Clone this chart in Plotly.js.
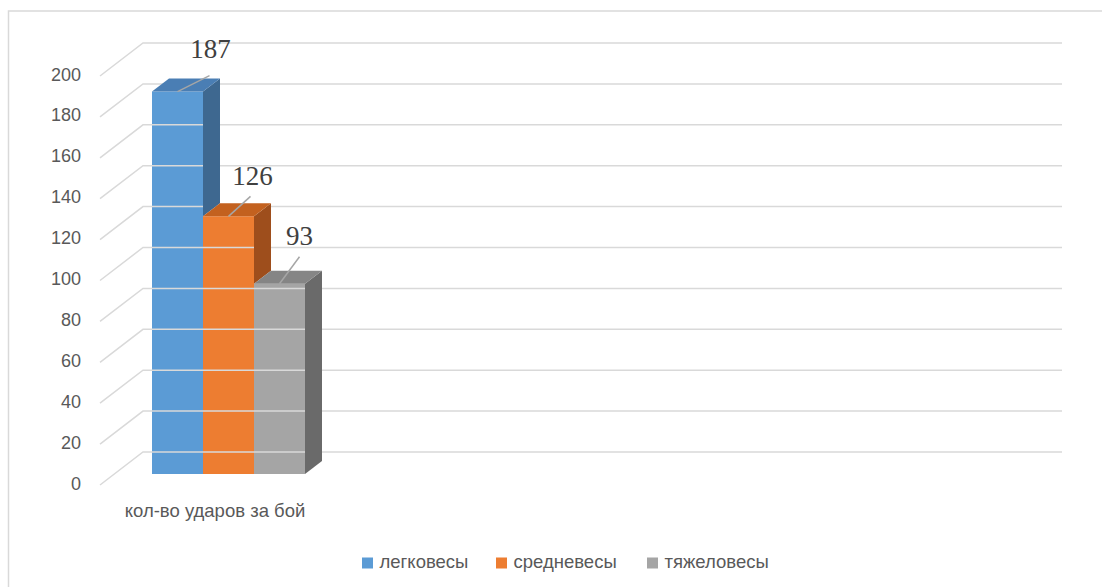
<!DOCTYPE html>
<html>
<head>
<meta charset="utf-8">
<script src="https://cdn.plot.ly/plotly-3.0.1.min.js"></script>
<style>html,body{margin:0;padding:0;background:#fff;}#chart{width:1102px;height:587px;}</style>
</head>
<body>
<div id="chart"></div>
<script>
// ---- data ----
const categories = ['кол-во ударов за бой'];
const seriesNames = ['легковесы', 'средневесы', 'тяжеловесы'];
const seriesValues = [187, 126, 93];
const yTickValues = [0, 20, 40, 60, 80, 100, 120, 140, 160, 180, 200];
const yTickLabels = ['0', '20', '40', '60', '80', '100', '120', '140', '160', '180', '200'];

// ---- styles / layout geometry ----
const frontColors = ['#5B9BD5', '#ED7D31', '#A5A5A5'];
const topColors = ['#4A7EB4', '#C3611F', '#858585'];
const sideColors = ['#3E6890', '#9E4E1C', '#6A6A6A'];
const W = 1102, H = 587;
const S = 2.045;          // px per value unit
const Y0 = 474;           // pixel row of value 0 on the bars' front plane
const u = px => px / S;   // vertical pixel offset -> value units
const barLeft = 152, barW = 51;
const depthDx = 17, depthDy = 13;            // bar depth
const frontDy = -11;                         // axis (front) plane relative to bar plane
const backDy = 22;                           // back wall relative to bar plane
const wallLeft = 100, backLeft = 143, backRight = 1062;
const labelDx = [33, 24, 20], labelDy = [40, 38, 46];
const leadDx = [32, 22, 20], leadDy = [16, 20, 27];
const legendX = [367.5, 501.5, 652.5], legendYpx = 563;
const sansFont = 'Liberation Sans, Arial, sans-serif';

const traces = [];

// gridlines: side wall diagonals + back wall horizontals
const gx = [], gy = [];
yTickValues.forEach(t => {
  gx.push(wallLeft, backLeft, backRight, null);
  gy.push(t + u(frontDy), t + u(backDy), t + u(backDy), null);
});
traces.push({type: 'scatter', mode: 'lines', x: gx, y: gy, line: {color: '#D9D9D9', width: 1.5},
  hoverinfo: 'skip', showlegend: false});

// y tick labels on the front plane
traces.push({type: 'scatter', mode: 'text', x: yTickValues.map(() => 81),
  y: yTickValues.map(t => t + u(frontDy)), text: yTickLabels, textposition: 'middle left',
  textfont: {family: sansFont, size: 18, color: '#595959'},
  hoverinfo: 'skip', showlegend: false});

// bars: front faces as bar traces, side & top faces as polygons
seriesValues.forEach((v, i) => {
  const x0 = barLeft + i * barW;
  traces.push({type: 'bar', name: seriesNames[i], x: [x0 + barW / 2], y: [v], width: [barW],
    marker: {color: frontColors[i], line: {width: 0}}, hoverinfo: 'name+y', showlegend: false});
});
seriesValues.forEach((v, i) => {
  const x0 = barLeft + i * barW, x1 = x0 + barW;
  const next = i < seriesValues.length - 1 ? Math.min(seriesValues[i + 1], v) : 0;
  const d = u(depthDy);
  traces.push({type: 'scatter', mode: 'lines', fill: 'toself', fillcolor: sideColors[i],
    x: [x1, x1 + depthDx, x1 + depthDx, x1, x1], y: [next, next + d, v + d, v, next],
    line: {width: 0, color: sideColors[i]}, hoverinfo: 'skip', showlegend: false});
  traces.push({type: 'scatter', mode: 'lines', fill: 'toself', fillcolor: topColors[i],
    x: [x0, x0 + depthDx, x1 + depthDx, x1, x0], y: [v, v + d, v + d, v, v],
    line: {width: 0, color: topColors[i]}, hoverinfo: 'skip', showlegend: false});
});

// leader lines and data labels
seriesValues.forEach((v, i) => {
  const cx = barLeft + i * barW + barW / 2;
  traces.push({type: 'scatter', mode: 'lines', x: [cx, cx + leadDx[i]], y: [v, v + u(leadDy[i])],
    line: {color: '#A6A6A6', width: 1.5}, hoverinfo: 'skip', showlegend: false});
  traces.push({type: 'scatter', mode: 'text', x: [cx + labelDx[i]], y: [v + u(labelDy[i])],
    text: [String(v)], textposition: 'middle center',
    textfont: {family: 'Liberation Serif, Times New Roman, serif', size: 27, color: '#404040'},
    hoverinfo: 'skip', showlegend: false});
});

// category label
traces.push({type: 'scatter', mode: 'text', x: [215], y: [u(Y0 - 512)], text: categories,
  textposition: 'middle center',
  textfont: {family: sansFont, size: 18.5, color: '#595959'},
  hoverinfo: 'skip', showlegend: false});

// legend (series swatches + names)
seriesNames.forEach((name, i) => {
  traces.push({type: 'scatter', mode: 'markers', x: [legendX[i]], y: [u(Y0 - legendYpx)],
    marker: {symbol: 'square', size: 11, color: frontColors[i]},
    hoverinfo: 'skip', showlegend: false});
  traces.push({type: 'scatter', mode: 'text', x: [legendX[i] + 12], y: [u(Y0 - legendYpx)],
    text: [name], textposition: 'middle right',
    textfont: {family: sansFont, size: 18.5, color: '#595959'},
    hoverinfo: 'skip', showlegend: false});
});

const layout = {
  width: W, height: H,
  margin: {l: 0, r: 0, t: 0, b: 0, pad: 0},
  paper_bgcolor: '#ffffff', plot_bgcolor: 'rgba(0,0,0,0)',
  barmode: 'overlay',
  xaxis: {range: [0, W], visible: false, fixedrange: true},
  yaxis: {range: [u(Y0 - H), u(Y0)], visible: false, fixedrange: true},
  showlegend: false,
  shapes: [{type: 'rect', xref: 'paper', yref: 'paper', x0: 8.5 / W, x1: 1.02, y0: -0.05, y1: 1 - 11 / H,
    line: {color: '#D9D9D9', width: 1.5}, fillcolor: 'rgba(0,0,0,0)', layer: 'below'}]
};

Plotly.newPlot('chart', traces, layout, {displayModeBar: false, staticPlot: true});
</script>
</body>
</html>
